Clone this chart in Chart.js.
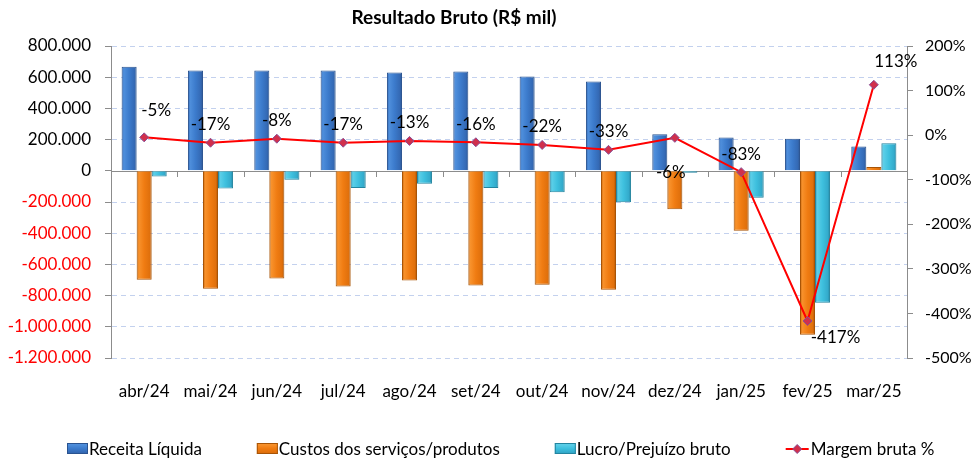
<!doctype html>
<html lang="pt-BR">
  <head>
    <meta charset="utf-8">
    <title>Resultado Bruto (R$ mil)</title>
    <style>
      * { margin: 0; padding: 0; }
      body { background: #fff; }
      .chartBox { width: 972px; height: 461px; }
    </style>
  </head>
  <body>
    <div class="chartBox">
      <canvas id="myChart"></canvas>
    </div>
    <script src="https://cdn.jsdelivr.net/npm/chart.js/dist/chart.umd.min.js"></script>
    <script>
    // data
    const months = ['abr/24', 'mai/24', 'jun/24', 'jul/24', 'ago/24', 'set/24', 'out/24', 'nov/24', 'dez/24', 'jan/25', 'fev/25', 'mar/25'];
    const receita = [667000, 643000, 643000, 643000, 630000, 636000, 604000, 572000, 235000, 213000, 205000, 156000];
    const custos = [-699000, -756000, -690000, -741000, -703000, -735000, -731000, -763000, -246000, -385000, -1051000, 24000];
    const lucro = [-36000, -113000, -58000, -111000, -83000, -111000, -137000, -201000, -13000, -172000, -846000, 176000];
    const margem = [-5, -17, -8, -17, -13, -16, -22, -33, -6, -83, -417, 113];

    const FONT = 'Lato, "Open Sans", sans-serif';
    const CAT_PCT = 0.68;

    // bevel-ish colour stops per bar series
    const barStops = [
      { stops: ['#2c5ea8', '#4f8fdc', '#3c7bcc', '#3469b4', '#244c88'], border: '#2a5390' },
      { stops: ['#b85a06', '#f8922c', '#f07c12', '#e0700c', '#a85004'], border: '#a85406' },
      { stops: ['#2a88a6', '#5ccfe8', '#3ec0de', '#33aacb', '#21809c'], border: '#23849f' }
    ];

    function fmtBR(v) {
      const s = Math.abs(v).toString().replace(/\B(?=(\d{3})+(?!\d))/g, '.');
      return (v < 0 ? '-' : '') + s;
    }

    function fillStops(g, stops) {
      [0, 0.14, 0.5, 0.86, 1].forEach((p, k) => g.addColorStop(p, stops[k]));
      return g;
    }

    function barFill(c) {
      const chart = c.chart;
      const xs = chart.scales.x;
      const st = barStops[c.datasetIndex].stops;
      if (!xs || !xs.width || c.dataIndex === undefined) return st[2];
      const gw = xs.width / months.length * CAT_PCT;
      const bw = gw / 3;
      const left = xs.getPixelForValue(c.dataIndex) - gw / 2 + c.datasetIndex * bw;
      return fillStops(chart.ctx.createLinearGradient(left, 0, left + bw, 0), st);
    }

    // label offsets for the margin labels (dx, dy from the point)
    const labelShift = { 0: [12, -27], 8: [-4, 35], 10: [28, 17], 11: [22, -23] };

    const extras = {
      id: 'extras',
      beforeDatasetsDraw(chart) {
        const { ctx, chartArea, scales } = chart;
        const y0 = Math.round(scales.y.getPixelForValue(0));
        ctx.save();
        ctx.strokeStyle = '#8c8c8c';
        ctx.lineWidth = 1;
        ctx.beginPath();
        ctx.moveTo(chartArea.left, y0 + 0.5);
        ctx.lineTo(chartArea.right, y0 + 0.5);
        // category tick marks on the zero line
        const step = (chartArea.right - chartArea.left) / months.length;
        for (let i = 1; i < months.length; i++) {
          const x = Math.round(chartArea.left + step * i) + 0.5;
          ctx.moveTo(x, y0);
          ctx.lineTo(x, y0 + 6);
        }
        ctx.stroke();
        ctx.restore();
      },
      afterDatasetsDraw(chart) {
        const { ctx } = chart;
        const meta = chart.getDatasetMeta(3);
        ctx.save();
        ctx.font = '17px ' + FONT;
        ctx.fillStyle = '#000';
        ctx.textAlign = 'center';
        ctx.textBaseline = 'middle';
        meta.data.forEach((pt, i) => {
          const d = labelShift[i] || [0, -18];
          ctx.fillText(margem[i] + '%', pt.x + d[0], pt.y + d[1]);
        });
        ctx.restore();
      },
      afterDraw(chart) {
        const { ctx } = chart;
        ctx.save();
        // title
        ctx.font = 'bold 19px ' + FONT;
        ctx.fillStyle = '#000';
        ctx.textAlign = 'center';
        ctx.textBaseline = 'middle';
        ctx.fillText('Resultado Bruto (R$ mil)', 454, 18);

        // legend
        ctx.font = '17px ' + FONT;
        ctx.textAlign = 'left';
        let x = 67;
        const y = 449;
        chart.data.datasets.forEach((ds, i) => {
          if (ds.type === 'line') {
            ctx.strokeStyle = '#ff0000';
            ctx.lineWidth = 2;
            ctx.beginPath();
            ctx.moveTo(x, y);
            ctx.lineTo(x + 23, y);
            ctx.stroke();
            ctx.fillStyle = '#d0304c';
            ctx.strokeStyle = '#8a4f96';
            ctx.lineWidth = 1;
            ctx.beginPath();
            ctx.moveTo(x + 11.5, y - 4.5);
            ctx.lineTo(x + 16, y);
            ctx.lineTo(x + 11.5, y + 4.5);
            ctx.lineTo(x + 7, y);
            ctx.closePath();
            ctx.fill();
            ctx.stroke();
            x += 25;
          } else {
            ctx.fillStyle = fillStops(ctx.createLinearGradient(0, y - 6, 0, y + 5), barStops[i].stops);
            ctx.fillRect(x, y - 6, 21, 11);
            ctx.strokeStyle = barStops[i].border;
            ctx.lineWidth = 1;
            ctx.strokeRect(x + 0.5, y - 5.5, 20, 10);
            x += 22;
          }
          ctx.fillStyle = '#000';
          ctx.fillText(ds.label, x, y + 1);
          x += ctx.measureText(ds.label).width + 55;
        });
        ctx.restore();
      }
    };

    const data = {
      labels: months,
      datasets: [
        {
          label: 'Receita Líquida',
          data: receita,
          backgroundColor: barFill,
          borderColor: barStops[0].border,
          borderWidth: 1,
          order: 1
        },
        {
          label: 'Custos dos serviços/produtos',
          data: custos,
          backgroundColor: barFill,
          borderColor: barStops[1].border,
          borderWidth: 1,
          order: 1
        },
        {
          label: 'Lucro/Prejuízo bruto',
          data: lucro,
          backgroundColor: barFill,
          borderColor: barStops[2].border,
          borderWidth: 1,
          order: 1
        },
        {
          type: 'line',
          label: 'Margem bruta %',
          data: margem,
          yAxisID: 'y1',
          borderColor: '#ff0000',
          borderWidth: 2,
          tension: 0,
          pointStyle: 'rectRot',
          pointRadius: 4.5,
          pointBackgroundColor: '#d0304c',
          pointBorderColor: '#8a4f96',
          pointBorderWidth: 1,
          order: 0
        }
      ]
    };

    const config = {
      type: 'bar',
      data,
      plugins: [extras],
      options: {
        responsive: true,
        maintainAspectRatio: false,
        animation: false,
        layout: { padding: { top: 46, left: 0, right: 0, bottom: 0 } },
        datasets: {
          bar: { categoryPercentage: CAT_PCT, barPercentage: 1.0 }
        },
        plugins: {
          title: { display: false },
          tooltip: { enabled: false },
          legend: { display: false }
        },
        scales: {
          x: {
            grid: { display: false },
            border: { display: false },
            ticks: { color: '#000', padding: 15, font: { family: FONT, size: 17 }, maxRotation: 0 },
            afterFit: s => { s.height = 103; }
          },
          y: {
            min: -1200000,
            max: 800000,
            ticks: {
              stepSize: 200000,
              padding: 14,
              font: { family: FONT, size: 17 },
              color: c => c.tick.value < 0 ? '#ff0000' : '#000',
              callback: v => fmtBR(v)
            },
            grid: {
              color: c => c.tick.value === 0 ? 'rgba(0,0,0,0)' : '#c3d1ee',
              tickColor: '#8c8c8c',
              tickLength: 6
            },
            border: { color: '#8c8c8c', dash: [5, 4] },
            afterFit: s => { s.width = 111; }
          },
          y1: {
            position: 'right',
            min: -500,
            max: 200,
            ticks: {
              stepSize: 100,
              padding: 12,
              font: { family: FONT, size: 16 },
              color: '#000',
              callback: v => v + '%'
            },
            grid: { drawOnChartArea: false, tickColor: '#8c8c8c', tickLength: 6 },
            border: { color: '#8c8c8c' },
            afterFit: s => { s.width = 65; }
          }
        }
      }
    };

    const myChart = new Chart(document.getElementById('myChart'), config);
    </script>
  </body>
</html>
